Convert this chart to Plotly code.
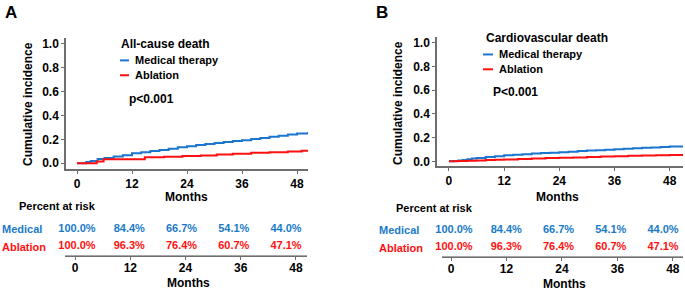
import plotly.graph_objects as go

W, H = 685, 295
FONT = "Liberation Sans, Arial, sans-serif"
BLUE = "#1b76d0"
RED = "#ff1010"
TBLUE = "#1a7ac8"
AXC = "#6e6e6e"

# ---- Data ----
months_ticks = [0, 12, 24, 36, 48]
y_ticks = [0.0, 0.2, 0.4, 0.6, 0.8, 1.0]

# Panel A: all-cause death
a_med_t = [0, 2, 3, 4.5, 6, 8, 10, 12, 14, 16, 18, 20, 22, 24, 26, 28, 30, 32, 34, 36, 38, 40, 42, 44, 46, 48, 50.4]
a_med_v = [0, 0.01, 0.02, 0.035, 0.045, 0.057, 0.068, 0.083, 0.092, 0.102, 0.112, 0.122, 0.133, 0.143, 0.152, 0.161, 0.170, 0.178, 0.186, 0.193, 0.202, 0.212, 0.221, 0.230, 0.240, 0.248, 0.262]
a_abl_t = [0, 4.3, 5.8, 14.8, 19, 23, 27, 30.5, 34, 38, 42, 46, 49, 50.4]
a_abl_v = [0, 0.015, 0.033, 0.05, 0.055, 0.06, 0.065, 0.073, 0.08, 0.088, 0.093, 0.098, 0.105, 0.11]

# Panel B: cardiovascular death
b_med_t = [0, 1, 2, 3, 4, 5, 6, 8, 10, 12, 14, 16, 18, 20, 22, 24, 26, 28, 30, 32, 34, 36, 38, 40, 42, 44, 46, 48, 50.9]
b_med_v = [0, 0.002, 0.006, 0.012, 0.018, 0.024, 0.028, 0.036, 0.043, 0.05, 0.055, 0.06, 0.065, 0.069, 0.073, 0.077, 0.081, 0.086, 0.09, 0.094, 0.098, 0.102, 0.106, 0.11, 0.114, 0.117, 0.121, 0.125, 0.13]
b_abl_t = [0, 2, 4, 6, 8, 10, 12, 15, 18, 21, 24, 27, 30, 33, 36, 39, 42, 45, 48, 50.9]
b_abl_v = [0, 0.002, 0.004, 0.007, 0.01, 0.013, 0.016, 0.019, 0.024, 0.027, 0.03, 0.033, 0.036, 0.04, 0.043, 0.046, 0.049, 0.051, 0.053, 0.055]

# Percent at risk (same in both panels)
risk_med = ["100.0%", "84.4%", "66.7%", "54.1%", "44.0%"]
risk_abl = ["100.0%", "96.3%", "76.4%", "60.7%", "47.1%"]


def px(x):
    return x / W


def py(y):
    return 1 - y / H


fig = go.Figure()

# main curves
for xa, ya, t1, v1, t2, v2 in [("x", "y", a_med_t, a_med_v, a_abl_t, a_abl_v),
                                ("x3", "y3", b_med_t, b_med_v, b_abl_t, b_abl_v)]:
    fig.add_trace(go.Scatter(x=t1, y=v1, mode="lines", line=dict(color=BLUE, width=2, shape="hv"),
                             xaxis=xa, yaxis=ya, showlegend=False, name="Medical therapy"))
    fig.add_trace(go.Scatter(x=t2, y=v2, mode="lines", line=dict(color=RED, width=2, shape="hv"),
                             xaxis=xa, yaxis=ya, showlegend=False, name="Ablation"))

# empty traces so that the risk-table axes are drawn
for xa, ya in [("x2", "y2"), ("x4", "y4")]:
    fig.add_trace(go.Scatter(x=[], y=[], mode="markers", xaxis=xa, yaxis=ya,
                             showlegend=False, hoverinfo="skip"))

# risk tables (text on their own invisible x axes for column spacing)
for xa, ya in [("x5", "y2"), ("x6", "y4")]:
    fig.add_trace(go.Scatter(x=months_ticks, y=[3] * 5, mode="text", text=risk_med, cliponaxis=False,
                             textfont=dict(family=FONT, size=11, color=TBLUE, weight="bold"),
                             xaxis=xa, yaxis=ya, showlegend=False, hoverinfo="skip"))
    fig.add_trace(go.Scatter(x=months_ticks, y=[1] * 5, mode="text", text=risk_abl, cliponaxis=False,
                             textfont=dict(family=FONT, size=11, color=RED, weight="bold"),
                             xaxis=xa, yaxis=ya, showlegend=False, hoverinfo="skip"))

tickfont = dict(family=FONT, size=12, color="black", weight="bold")


def xax(dom, rng, anchor, standoff=0):
    return dict(domain=[px(dom[0]), px(dom[1])], range=rng, anchor=anchor,
                tickvals=months_ticks, showline=True, linecolor=AXC, linewidth=1.5,
                ticks="outside", ticklen=3, tickcolor=AXC, tickwidth=1,
                ticklabelstandoff=standoff,
                showgrid=False, zeroline=False, tickfont=tickfont, fixedrange=True)


def yax(dom, rng, anchor):
    return dict(domain=[py(dom[1]), py(dom[0])], range=rng, anchor=anchor,
                tickvals=y_ticks, tickformat=".1f", showline=True, linecolor=AXC, linewidth=1.5,
                ticks="outside", ticklen=3, tickcolor=AXC, tickwidth=1,
                showgrid=False, zeroline=False, tickfont=tickfont, fixedrange=True)


def ytab(dom, anchor):
    return dict(domain=[py(dom[1]), py(dom[0])], range=[0, 4], anchor=anchor,
                visible=False, fixedrange=True)


def xhidden(dom, rng, anchor):
    return dict(domain=[px(dom[0]), px(dom[1])], range=rng, anchor=anchor,
                visible=False, fixedrange=True)


layout = dict(
    width=W, height=H, margin=dict(l=0, r=0, t=0, b=0),
    plot_bgcolor="white", paper_bgcolor="white",
    xaxis=xax((66, 308), [-2.4, 50.4], "y"),
    yaxis=yax((37, 170), [-0.05, 1.05], "x"),
    xaxis2=xax((65, 307), [-2.2, 50.4], "y2", standoff=-3),
    yaxis2=ytab((222, 257), "x2"),
    xaxis3=xax((437, 683), [-2.6, 50.9], "y3"),
    yaxis3=yax((36, 167), [-0.042, 1.05], "x3"),
    xaxis4=xax((442, 683), [-1.95, 50.2], "y4", standoff=-3),
    yaxis4=ytab((223, 258), "x4"),
    xaxis5=xhidden((65, 307), [-2.756, 52.82], "y2"),
    xaxis6=xhidden((442, 683), [-2.756, 52.59], "y4"),
)
fig.update_layout(**layout)

ann = []


def A(text, x, y, size=12, color="black", xanchor="center", angle=0, yref="paper", yval=None):
    ann.append(dict(text=text, x=px(x), xref="paper",
                    y=py(y) if yval is None else yval, yref=yref,
                    xanchor=xanchor, yanchor="middle", showarrow=False, textangle=angle,
                    font=dict(family=FONT, size=size, color=color, weight="bold")))


# panel letters
A("A", 3, 12, size=17, xanchor="left")
A("B", 374, 12, size=17, xanchor="left")
# y titles
A("Cumulative incidence", 28, 104, angle=-90)
A("Cumulative incidence", 398, 103, angle=-90)
# months titles
A("Months", 187, 198)
A("Months", 557, 198)
A("Months", 188, 285)
A("Months", 564, 286)
# percent at risk
A("Percent at risk", 57, 207, size=11)
A("Percent at risk", 434, 209, size=11)
# row labels
A("Medical", 0, 0, size=11, color=TBLUE, xanchor="left", yref="y2", yval=3)
A("Ablation", 0, 0, size=11, color=RED, xanchor="left", yref="y2", yval=1)
A("Medical", 377, 0, size=11, color=TBLUE, xanchor="left", yref="y4", yval=3)
A("Ablation", 377, 0, size=11, color=RED, xanchor="left", yref="y4", yval=1)
# legends
A("All-cause death", 119, 43, xanchor="left")
A("Medical therapy", 133, 60, size=11, xanchor="left")
A("Ablation", 133, 75, size=11, xanchor="left")
A("p<0.001", 127, 99, xanchor="left")
A("Cardiovascular death", 484, 37, xanchor="left")
A("Medical therapy", 497, 54, size=11, xanchor="left")
A("Ablation", 497, 69, size=11, xanchor="left")
A("P<0.001", 491, 92, xanchor="left")

fig.update_layout(annotations=ann)

shapes = []
for x0, x1, y, c in [(120, 129, 60, BLUE), (120, 129, 75, RED), (483, 493, 54, BLUE), (483, 493, 69, RED)]:
    shapes.append(dict(type="line", xref="paper", yref="paper", x0=px(x0), x1=px(x1), y0=py(y), y1=py(y),
                       line=dict(color=c, width=2)))
fig.update_layout(shapes=shapes)

fig.write_html("out.html", config={"displayModeBar": False},
               post_script="document.body.style.margin='0';document.body.style.padding='0';")
